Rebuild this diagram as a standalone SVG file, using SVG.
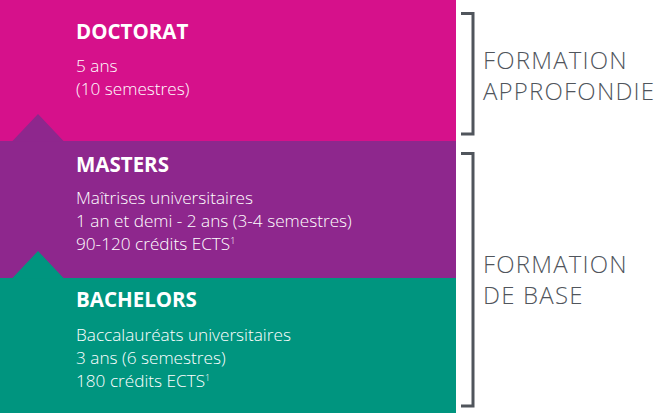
<svg xmlns="http://www.w3.org/2000/svg" width="656" height="413" viewBox="0 0 656 413">
<style>
.h{font-family:"Open Sans","Noto Sans",sans-serif;font-weight:700;font-size:20.5px;fill:#fff}
.b{font-family:"Open Sans","Noto Sans",sans-serif;font-weight:300;font-size:17.2px;fill:#fff}
.r{font-family:"Open Sans","Noto Sans",sans-serif;font-weight:300;font-size:24px;letter-spacing:1.2px;fill:#50555c}
.br{fill:none;stroke:#50555c;stroke-width:3}
</style>
<rect width="656" height="413" fill="#fff"/>
<g id="doctorat">
<rect x="0" y="0" width="456" height="141" fill="#D6118B"/>
<text class="h" x="76" y="39">DOCTORAT</text>
<text class="b" x="76" y="72">5 ans</text>
<text class="b" x="76" y="95">(10 semestres)</text>
</g>
<g id="masters">
<rect x="0" y="141" width="456" height="137" fill="#8E278D"/>
<polygon points="12,141.5 38,114 64,141.5" fill="#8E278D"/>
<text class="h" x="76" y="172">MASTERS</text>
<text class="b" x="76" y="204">Maîtrises universitaires</text>
<text class="b" x="76" y="227">1 an et demi - 2 ans (3-4 semestres)</text>
<text class="b" x="76" y="250">90-120 crédits ECTS<tspan font-size="9" dy="-6">1</tspan></text>
</g>
<g id="bachelors">
<rect x="0" y="278" width="456" height="135" fill="#00957F"/>
<polygon points="12,278.5 38,251 64,278.5" fill="#00957F"/>
<text class="h" x="76" y="307">BACHELORS</text>
<text class="b" x="76" y="341">Baccalauréats universitaires</text>
<text class="b" x="76" y="364">3 ans (6 semestres)</text>
<text class="b" x="76" y="387">180 crédits ECTS<tspan font-size="9" dy="-6">1</tspan></text>
</g>
<g id="connectors">
<path class="br" d="M461,13.5 H473 V134 H461"/>
<path class="br" d="M461,153.5 H473 V406 H461"/>
</g>
<g id="formation-approfondie">
<text class="r" x="483" y="69">FORMATION</text>
<text class="r" x="483" y="100">APPROFONDIE</text>
</g>
<g id="formation-de-base">
<text class="r" x="483" y="273">FORMATION</text>
<text class="r" x="483" y="304">DE BASE</text>
</g>
</svg>
